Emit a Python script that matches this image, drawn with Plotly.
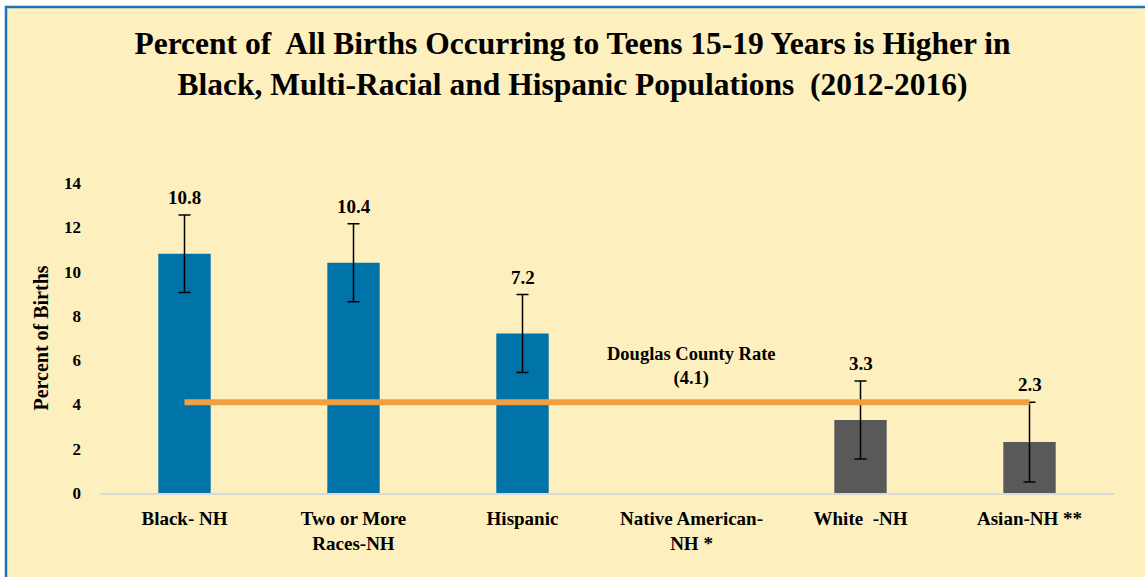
import plotly.graph_objects as go

categories = ["Black- NH", "Two or More<br>Races-NH", "Hispanic",
              "Native American-<br>NH *", "White  -NH", "Asian-NH **"]
percent = [10.8, 10.4, 7.2, None, 3.3, 2.3]
error = [1.75, 1.76, 1.76, None, 1.76, 1.8]
bar_colors = ["#0073A8", "#0073A8", "#0073A8", "#0073A8", "#595959", "#595959"]
county_rate = 4.1

serif = "Liberation Serif, DejaVu Serif, serif"

fig = go.Figure()

fig.add_trace(go.Bar(
    x=categories, y=percent,
    marker=dict(color=bar_colors, line=dict(width=0)),
    error_y=dict(type="data", array=error, visible=True,
                 color="black", thickness=1.5, width=6),
    hoverinfo="x+y",
))

# county rate line spanning all groups
fig.add_trace(go.Scatter(
    x=[categories[0], categories[-1]], y=[county_rate, county_rate],
    mode="lines", line=dict(color="#F0A040", width=6),
    hoverinfo="y",
))

for c, v, e in zip(categories, percent, error):
    if v is None:
        continue
    fig.add_annotation(x=c, y=v + e, text="<b>%.1f</b>" % v, showarrow=False,
                       yanchor="bottom", yshift=5,
                       font=dict(family=serif, size=19, color="black"))

fig.add_annotation(x=categories[3], y=county_rate, text="<b>Douglas County Rate<br>(4.1)</b>",
                   showarrow=False, yanchor="bottom", yshift=11,
                   font=dict(family=serif, size=18.5, color="black"))

# cream panel with blue frame
fig.add_shape(type="rect", xref="paper", yref="paper",
              x0=-0.0927, x1=1.04, y0=-0.3, y1=1.568,
              fillcolor="#FDEFBE", line=dict(color="#1A75B8", width=2.5),
              layer="below")

fig.update_layout(
    width=1145, height=577,
    margin=dict(l=100, r=31, t=183, b=84),
    paper_bgcolor="white", plot_bgcolor="rgba(0,0,0,0)",
    showlegend=False, bargap=0.69,
    font=dict(family=serif, color="black"),
    title=dict(text="<b>Percent of  All Births Occurring to Teens 15-19 Years is Higher in<br>"
                    "Black, Multi-Racial and Hispanic Populations  (2012-2016)</b>",
               x=0.5, xref="container", xanchor="center", y=0.906, yanchor="top",
               font=dict(family=serif, size=31.5, color="black")),
    xaxis=dict(showgrid=False, showline=True, linecolor="#D9D9D9", linewidth=2,
               ticks="", tickfont=dict(family=serif, size=19, color="black"),
               ticklabelstandoff=7, tickprefix="<b>", ticksuffix="</b>"),
    yaxis=dict(range=[0, 14], dtick=2, showgrid=False, zeroline=False,
               showline=False, ticks="", ticklabelstandoff=18,
               tickfont=dict(family=serif, size=17, color="black"),
               tickprefix="<b>", ticksuffix="</b>",
               title=dict(text="<b>Percent of Births</b>", standoff=10,
                          font=dict(family=serif, size=20, color="black"))),
)

fig.write_html("out.html", config={"displayModeBar": False},
               post_script="document.body.style.margin='0';")
